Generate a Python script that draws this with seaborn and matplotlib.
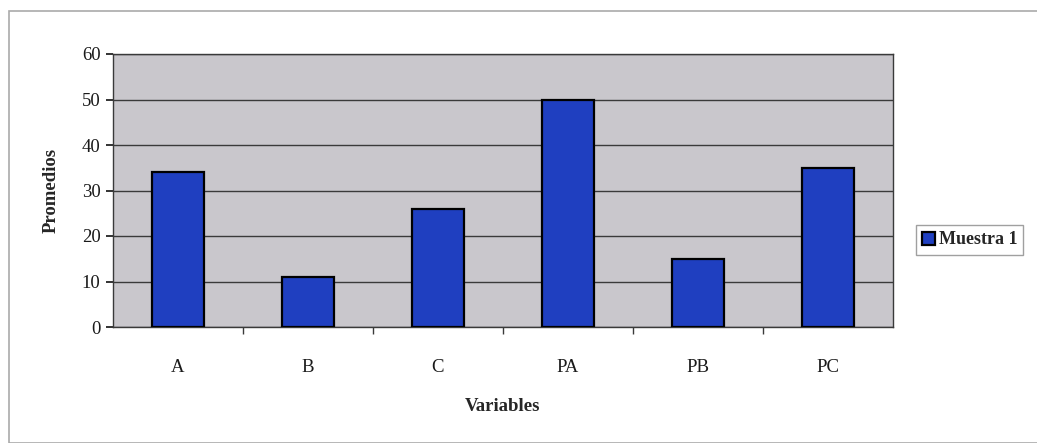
import matplotlib
matplotlib.use("Agg")
import matplotlib.pyplot as plt
import seaborn as sns
import pandas as pd

categories = ["A", "B", "C", "PA", "PB", "PC"]
values = [34, 11, 26, 50, 15, 35]
series_name = "Muestra 1"
y_ticks = [0, 10, 20, 30, 40, 50, 60]

df = pd.DataFrame({"Variables": categories, "Promedios": values, "Serie": series_name})

sns.set_theme(style="white")
plt.rcParams["font.family"] = ["Liberation Serif", "DejaVu Serif"]

fig = plt.figure(figsize=(10.37, 4.43), dpi=100)
ax = fig.add_axes([113/1037, 1 - 327/443, (893-113)/1037, (327-54)/443])

sns.barplot(data=df, x="Variables", y="Promedios", hue="Serie", palette=["#1f3fc0"],
            saturation=1, edgecolor="black", linewidth=1.6, width=0.4, ax=ax, zorder=3)

ax.set_facecolor("#c9c7cc")
ax.set_ylim(0, 60)
ax.set_yticks(y_ticks)
ax.yaxis.grid(True, color="#3a3a3a", linewidth=1.0, zorder=0)
ax.set_axisbelow(True)
for s in ax.spines.values():
    s.set_color("#3a3a3a")
    s.set_linewidth(1.0)
ax.tick_params(axis="both", labelsize=13.5, colors="#1a1a1a", length=5, direction="out", left=True, bottom=False)
ax.set_xlim(-0.5, 5.5)
ax.set_xticks([i + 0.5 for i in range(5)], minor=True)
ax.tick_params(axis="x", which="minor", bottom=True, length=5, color="#3a3a3a")
ax.tick_params(axis="x", pad=18)
ax.tick_params(axis="y", pad=4)
ax.set_xlabel("Variables", fontsize=13.5, fontweight="bold", labelpad=16)
ax.set_ylabel("Promedios", fontsize=13.5, fontweight="bold", labelpad=16)

leg = ax.legend(loc="center left", bbox_to_anchor=(916/1037, 1 - 240/443), bbox_transform=fig.transFigure,
                frameon=True, handlelength=0.7, handleheight=0.7, handletextpad=0.2,
                borderpad=0.35, borderaxespad=0.0, fancybox=False, prop={"weight": "bold", "size": 13})
leg.get_frame().set_edgecolor("#888888")
leg.get_frame().set_linewidth(1.0)

border = plt.Rectangle((9/1037, 0.0), 1.2, 1 - 11/443, transform=fig.transFigure, fill=False,
                       edgecolor="#aaaaaa", linewidth=1.2)
fig.patches.append(border)

fig.savefig("out.png", dpi=100, facecolor="white")
